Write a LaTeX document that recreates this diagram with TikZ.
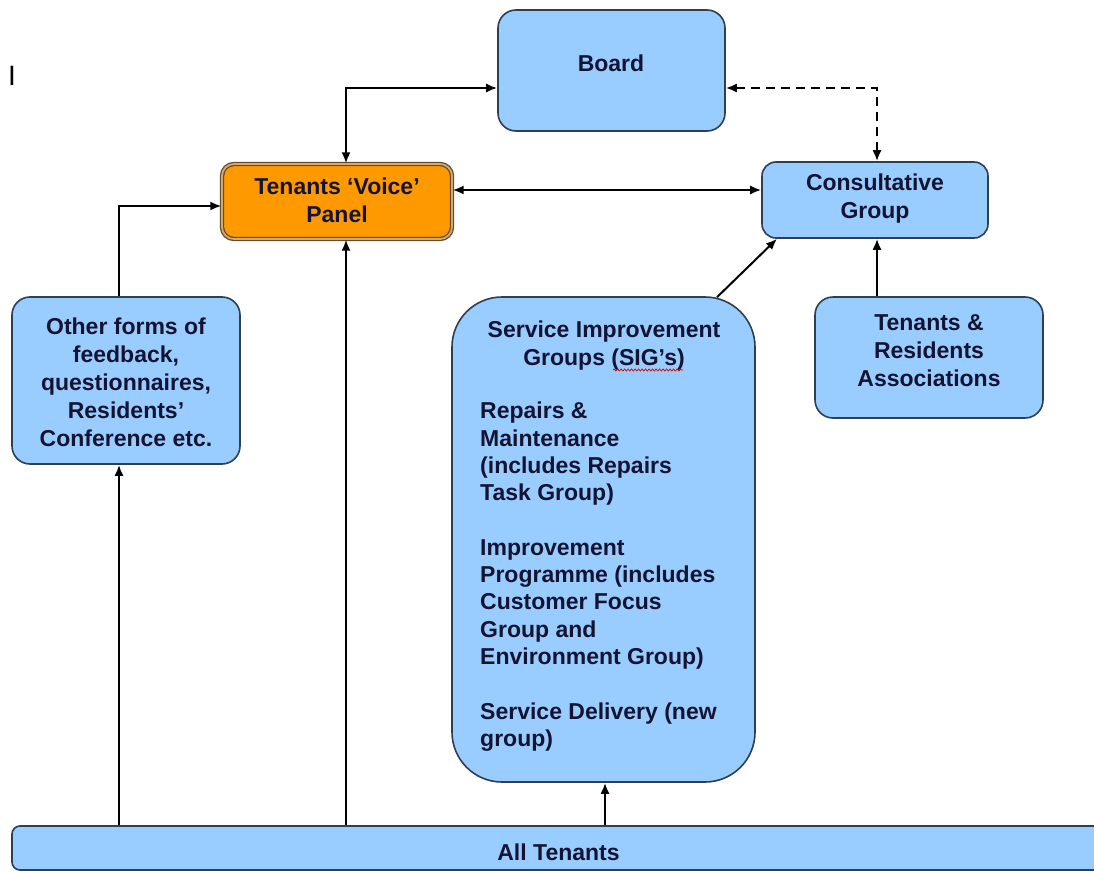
\documentclass[tikz,border=0pt]{standalone}
\usepackage{fontspec}
\setmainfont{Liberation Sans}
\usetikzlibrary{arrows.meta,calc,decorations.pathmorphing}
\definecolor{boxblue}{RGB}{153,204,255}
\definecolor{boxline}{RGB}{45,62,85}
\definecolor{txt}{RGB}{20,20,50}
\definecolor{orng}{RGB}{255,153,0}
\definecolor{brn}{RGB}{105,75,40}
\definecolor{tanc}{RGB}{205,170,120}
\begin{document}
\begin{tikzpicture}[x=1pt,y=-1pt,
  box/.style={draw=boxline, line width=1.6pt, fill=boxblue, rounded corners=18pt, inner sep=0pt},
  lbl/.style={text=txt, font=\fontsize{23}{28}\selectfont\bfseries, align=center, inner sep=0pt},
  tip/.style={-{Latex[length=11pt,width=9pt]}},
  conn/.style={line width=2pt, black, tip},
  biconn/.style={line width=2pt, black, {Latex[length=11pt,width=9pt]}-{Latex[length=11pt,width=9pt]}},
  dashconn/.style={biconn, dash pattern=on 9pt off 6pt}
]
\useasboundingbox (0,0) rectangle (1094,872);
\fill[white] (0,0) rectangle (1094,872);

% boxes
\node[box, minimum width=227pt, minimum height=121pt] (board) at (611.5,70.5) {};
\node[draw=brn, double=tanc, double distance=1.8pt, line width=1.3pt, fill=orng, rounded corners=12pt, minimum width=230pt, minimum height=75pt, inner sep=0pt] (tvp) at (337,201.5) {};
\node[box, rounded corners=14pt, minimum width=226pt, minimum height=76pt] (cg) at (875,200) {};
\node[box, minimum width=228pt, minimum height=167pt] (of) at (126,380.5) {};
\node[box, rounded corners=50pt, minimum width=303pt, minimum height=485pt] (sig) at (603.5,539.5) {};
\node[box, minimum width=228pt, minimum height=121pt] (tra) at (929,357.5) {};
\node[box, rounded corners=8pt, minimum width=1098pt, minimum height=44pt] (allt) at (561,848) {};

% labels
\node[lbl] (boardl) at (611,63) {Board};
\node[lbl] (tvpl) at (337,200) {Tenants ‘Voice’\\Panel};
\node[lbl] (cgl) at (875,199) {Consultative\\Group};
\node[lbl] (ofl) at (126,382) {Other forms of\\feedback,\\questionnaires,\\Residents’\\Conference etc.};
\node[lbl] (tral) at (929,351) {Tenants \&\\Residents\\Associations};
\node[lbl] (sigt) at (604,346) {Service Improvement\\Groups (SIG’s)};
\node[lbl, align=left, anchor=north west, font=\fontsize{23}{27.3}\selectfont\bfseries] (sigb) at (480,402) {Repairs \&\\Maintenance\\(includes Repairs\\Task Group)\\[27.3pt]Improvement\\Programme (includes\\Customer Focus\\Group and\\Environment Group)\\[27.3pt]Service Delivery (new\\group)};
\node[lbl] (alltl) at (558.5,852) {All Tenants};
\node[lbl, text=black, font=\fontsize{28}{30}\selectfont] (cursor) at (12,76) {I};

% spell-check squiggle
\coordinate (sq1) at (613,370);
\coordinate (sq2) at (683,370);
\draw[red!85!black, line width=0.7pt, decorate, decoration={snake,amplitude=1.1pt,segment length=3.5pt}] (sq1) -- (sq2);

% helper coordinates
\coordinate (xa) at (346,0);
\coordinate (xb) at (877,0);
\coordinate (xc) at (119,0);
\coordinate (xd) at (605,0);
\coordinate (xe) at (717,0);
\coordinate (xf) at (777,0);
\coordinate (by) at (0,88);
\coordinate (cy) at (0,190);
\coordinate (dy) at (0,206);

% connectors
\draw[biconn] (board.west |- by) -| (tvp.north -| xa);
\draw[dashconn] (board.east |- by) -| (cg.north -| xb);
\draw[biconn] (tvp.east |- cy) -- (cg.west |- cy);
\draw[conn] (of.north -| xc) |- (tvp.west |- dy);
\draw[conn] (allt.north -| xc) -- (of.south -| xc);
\draw[conn] (allt.north -| xa) -- (tvp.south -| xa);
\draw[conn] (allt.north -| xd) -- (sig.south -| xd);
\draw[conn] ($(sig.north -| xe)+(0,1)$) -- (cg.south -| xf);
\draw[conn] (tra.north -| xb) -- (cg.south -| xb);
\end{tikzpicture}
\end{document}
